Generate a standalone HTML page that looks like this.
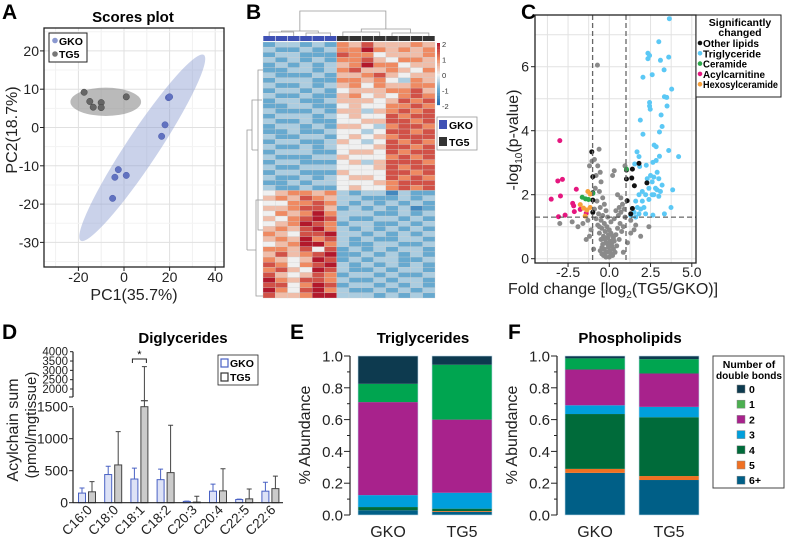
<!DOCTYPE html>
<html><head><meta charset="utf-8">
<style>
html,body{margin:0;padding:0;background:#fff;}
svg{display:block;font-family:"Liberation Sans",Arial,sans-serif;}
</style></head>
<body>
<svg id="fig" width="786" height="545" viewBox="0 0 786 545" xmlns="http://www.w3.org/2000/svg">
<g font-weight="bold" font-size="21">
<text x="2" y="19">A</text>
<text x="246" y="19">B</text>
<text x="521" y="19">C</text>
<text x="2" y="339">D</text>
<text x="290" y="339">E</text>
<text x="508" y="339">F</text>
</g>
<g id="pA"></g>
<g id="pB"></g>
<g id="pC"></g>
<g id="pD"></g>
<g id="pE"></g>
<g id="pF"></g>
</svg>
<script>
// ---------- Panel A data ----------
const gkoPC1 = [19.5, 20, 18, 16.5, -2.5, 1, -4, -5];
const gkoPC2 = [7.8, 8, 0.7, -2.3, -11, -12.5, -13, -18.5];
const tg5PC1 = [-17.5, -15, -13.5, -10, -10, 1];
const tg5PC2 = [9.2, 6.8, 5.3, 6.5, 5.2, 8];
const aXTicks = [-20, 0, 20, 40];
const aYTicks = [-30, -20, -10, 0, 10, 20];

// ---------- Panel B data (digit 0..8 => z -2..2) ----------
const heatRows = [
"23323265755565","32232366865656","23322276645556","32323266754665","23232356866455",
"22332367556546","32223255675455","23332266564365","32232356465566","23323245556675",
"32232256454676","23322355545767","22332245446676","32223255356767","23332345447677",
"32232244557767","23323255436776","22322344347767","32233245456777","23322354347676",
"32232344457767","23332245547677","32223354446767","23322245357776","32233344457677",
"23322254447767","32232345547676","22323344456777","32232245446767",
"45665632331322","56576533222323","44667632323232","55677523232312","46568633322323",
"54678732233232","45687623322323","56578632323232","65477833232323","56586732322332",
"45688632233223","66574723232332","57567822323232","65458723233223","76467832323232",
"67548732232332","75457623323223","86577632232332","77468723323232","86478632232323",
"75568833323232"];
const heatGroups = ["GKO","GKO","GKO","GKO","GKO","GKO","TG5","TG5","TG5","TG5","TG5","TG5","TG5","TG5"];
const scaleTicks = [2, 1, 0, -1, -2];

// ---------- Panel C data ----------
const tgFC = [3.64,3.0,2.34,2.44,2.34,3.1,3.6,3.32,2.6,2.04,3.78,3.34,3.48,2.44,2.44,2.48,3.5,3.14,1.88,3.2,3.04,2.04,2.72,2.84,3.6,1.68,1.8,3.04,4.2,2.64,2.84,2.24,1.54,1.84,3.84,3.74,3.34,2.64,
 2.3,2.5,2.7,2.9,2.6,3.0,3.2,2.4,2.8,2.0,2.2,2.6,3.0,2.9,1.8,1.6,2.0,2.4,1.7,1.9,2.1,1.5,1.8,1.3,1.6,2.2,2.7,3.1];
const tgP = [7.5,6.78,6.42,6.35,6.25,6.2,6.3,5.9,5.75,5.67,5.3,5.06,5.04,4.88,4.77,4.67,4.77,4.49,4.33,4.13,3.96,3.89,3.55,3.5,3.38,3.34,3.19,3.2,3.19,3.01,3.07,2.92,2.96,2.88,2.15,1.6,1.4,1.36,
 2.5,2.6,2.55,2.7,2.4,2.5,2.3,2.2,2.2,2.1,2.0,2.0,1.95,2.15,2.0,1.8,1.8,1.85,1.6,1.55,1.6,1.45,1.4,1.35,1.3,1.4,2.0,2.1];
const otherFC = [-1.06,-1.0,-1.0,-1.0,-1.0,1.04,1.4,1.04,1.36,1.52,1.8,2.28,1.08,1.4,1.3];
const otherP = [3.34,2.56,2.06,1.83,1.45,2.77,2.8,2.49,2.52,2.28,2.98,2.37,1.81,1.57,1.4];
const cerFC = [-1.64,-1.44,-1.26,-1.0,1.04];
const cerP = [1.92,1.87,1.85,2.04,2.8];
const acFC = [-3.0,-3.12,-2.84,-2.96,-3.52,-2.0,-2.22,-2.12,-1.76,-2.68,-3.08,-1.4,-2.16];
const acP = [3.69,2.43,2.48,1.96,1.86,2.17,1.73,1.47,1.54,1.36,1.31,1.42,1.65];
const hexFC = [-1.3,-1.16,-1.76,-1.56,-1.36,-1.16,-1.46];
const hexP = [2.1,2.02,1.69,1.58,1.52,1.6,1.33];
const nsFC = [-0.72,-0.62,-0.9,-0.7,-0.55,-0.8,-0.5,-0.85,-0.6,-0.4,-0.75,-0.3,-0.55,-0.9,-0.2,-0.65,-0.4,-0.8,-0.1,-0.5,-0.3,-0.7,-0.15,-0.45,0.0,-0.25,-0.6,0.1,-0.35,-0.1,0.2,-0.5,0.05,-0.2,0.3,-0.4,0.15,-0.05,-0.3,0.25,-0.15,0.1,-0.35,0.0,-0.2,0.2,-0.55,0.35,-0.45,0.45,
 0.6,0.4,0.7,0.55,0.8,0.9,0.3,0.65,0.5,0.75,0.4,0.85,0.6,0.95,0.3,0.2,0.5,0.7,
 -1.3,-1.6,-1.1,-1.9,-2.25,-3.0,-1.2,-1.4,1.3,1.6,1.5,1.9,1.1,2.4,1.3,-1.05,-1.2,-0.95,0.85,0.95,
 -0.25,-0.05,0.15,-0.45,0.05,-0.3,-0.1,0.25,-0.6,0.1];
const nsP = [6.05,3.42,3.1,2.9,2.7,2.6,2.4,2.2,2.1,1.9,1.8,1.7,1.6,1.55,1.5,1.4,1.35,1.25,1.3,1.2,1.1,1.05,1.0,0.95,0.9,0.85,0.8,0.8,0.7,0.65,0.7,0.6,0.55,0.5,0.55,0.45,0.4,0.35,0.3,0.3,0.2,0.15,0.1,0.05,0.05,0.1,0.25,0.2,0.15,0.4,
 1.6,1.5,1.45,1.35,1.7,1.55,1.25,1.1,0.95,0.85,0.75,1.0,0.6,1.3,2.75,2.6,2.0,1.9,
 1.2,1.1,0.9,1.0,1.15,1.1,0.7,0.6,1.2,1.05,0.9,0.7,0.5,1.0,0.8,3.05,2.9,0.3,0.2,2.9,
 0.6,0.75,0.5,0.35,0.25,0.15,0.45,0.65,1.0,1.15];
const cXTicks = [-2.5, 0, 2.5, 5];
const cYTicks = [0, 2, 4, 6];

// ---------- Panel D data ----------
const dgCats = ["C16:0","C18:0","C18:1","C18:2","C20:3","C20:4","C22:5","C22:6"];
const dgGKO = [150, 440, 370, 360, 20, 180, 50, 180];
const dgGKOerr = [230, 570, 540, 525, 25, 290, 55, 320];
const dgTG5 = [170, 590, 1700, 470, 10, 185, 60, 220];
const dgTG5err = [330, 1110, 3200, 1210, 100, 530, 215, 415];
const dLowTicks = [0, 500, 1000, 1500];
const dHighTicks = [2000, 2500, 3000, 3500, 4000];

// ---------- Panel E/F data (bottom to top: 6+,5,4,3,2,1,0) ----------
const bondLabels = ["6+","5","4","3","2","1","0"];
const tgGKO = [0.03, 0.0, 0.02, 0.075, 0.585, 0.115, 0.175];
const tgTG5 = [0.02, 0.005, 0.015, 0.1, 0.46, 0.345, 0.055];
const plGKO = [0.265, 0.025, 0.345, 0.055, 0.225, 0.07, 0.015];
const plTG5 = [0.22, 0.025, 0.37, 0.065, 0.21, 0.09, 0.02];
const stackTicks = [0, 0.2, 0.4, 0.6, 0.8, 1.0];

const NS = "http://www.w3.org/2000/svg";
function mk(parent, tag, attrs, text) {
  const e = document.createElementNS(NS, tag);
  for (const k in attrs) e.setAttribute(k, attrs[k]);
  if (text !== undefined) e.textContent = text;
  parent.appendChild(e);
  return e;
}

// ================= Panel A =================
(function(){
  const g = document.getElementById('pA');
  const L=44,R=224,T=28,B=267;
  const sx = v => 124 + v*2.28;
  const sy = v => 127.5 - v*3.83;
  let t = mk(g,'text',{x:133,y:22,'text-anchor':'middle','font-weight':'bold','font-size':15},'Scores plot');
   
  for (let v=-30; v<=40; v+=10){ const l=mk(g,'line',{x1:sx(v),x2:sx(v),y1:T,y2:B,stroke:v%20===0?'#e0e0e0':'#f0f0f0','stroke-width':1});
      }
  for (let v=-35; v<=25; v+=5){ const yy=sy(v); if(yy<T||yy>B) continue; const l=mk(g,'line',{x1:L,x2:R,y1:yy,y2:yy,stroke:v%10===0?'#e0e0e0':'#f3f3f3','stroke-width':1});
      }
  const cx1=sx(8), cy1=sy(-5.3), dx=sx(35)-sx(-19), dy=sy(19)-sy(-29.5);
  const len=Math.sqrt(dx*dx+dy*dy)/2, ang=Math.atan2(dy,dx)*180/Math.PI;
  let e=mk(g,'ellipse',{cx:cx1,cy:cy1,rx:len,ry:16,fill:'#8a9bd0','fill-opacity':0.45,transform:`rotate(${ang} ${cx1} ${cy1})`});
   
  e=mk(g,'ellipse',{cx:sx(-8),cy:sy(6.7),rx:15.5*2.28,ry:3.7*3.83,fill:'#8c8c8c','fill-opacity':0.6});
   
  gkoPC1.forEach((v,i)=>{ const c=mk(g,'circle',{cx:sx(v),cy:sy(gkoPC2[i]),r:3.2,fill:'#6172c0',stroke:'#4e5eae','stroke-width':0.5});
      });
  tg5PC1.forEach((v,i)=>{ const c=mk(g,'circle',{cx:sx(v),cy:sy(tg5PC2[i]),r:3.2,fill:'#666',stroke:'#444','stroke-width':0.5});
      });
  let r=mk(g,'rect',{x:L,y:T,width:R-L,height:B-T,fill:'none',stroke:'#222','stroke-width':1.3});
   
  aXTicks.forEach(v=>{ mk(g,'line',{x1:sx(v),x2:sx(v),y1:B,y2:B+4,stroke:'#222'});
    const tt=mk(g,'text',{x:sx(v),y:282,'text-anchor':'middle','font-size':14,fill:'#222'},String(v));
      });
  aYTicks.forEach(v=>{ mk(g,'line',{x1:L-4,x2:L,y1:sy(v),y2:sy(v),stroke:'#222'});
    const tt=mk(g,'text',{x:L-5,y:sy(v)+5,'text-anchor':'end','font-size':14,fill:'#222'},String(v));
      });
  t=mk(g,'text',{x:134,y:300,'text-anchor':'middle','font-size':16,fill:'#222'},'PC1(35.7%)');
   
  t=mk(g,'text',{x:0,y:0,'text-anchor':'middle','font-size':16,fill:'#222',transform:'translate(17 130) rotate(-90)'},'PC2(18.7%)');
   
  const lg=mk(g,'g',{});  
  mk(lg,'rect',{x:49,y:33,width:38,height:29,fill:'#fff',stroke:'#222','stroke-width':1});
  mk(lg,'circle',{cx:55,cy:40.5,r:2.8,fill:'#8a98d0'});
  mk(lg,'text',{x:59,y:45,'font-size':10.5,'font-weight':'bold'},'GKO');
  mk(lg,'circle',{cx:55,cy:54,r:2.8,fill:'#777'});
  mk(lg,'text',{x:59,y:58,'font-size':10.5,'font-weight':'bold'},'TG5');
})();

// ================= Panel B =================
(function(){
  const g = document.getElementById('pB');
  const L=263,R=435,T=42,B=298;
  const nc=heatGroups.length, nr=heatRows.length;
  const cw=(R-L)/nc, rh=(B-T)/nr;
  function col(z){
    const stops=[[-2,[33,102,172]],[-1,[103,169,207]],[0,[240,240,240]],[1,[239,138,98]],[2,[178,24,43]]];
    z=Math.max(-2,Math.min(2,z));
    for(let i=0;i<stops.length-1;i++){ const a=stops[i],b=stops[i+1];
      if(z<=b[0]){ const t=(z-a[0])/(b[0]-a[0]); return 'rgb('+a[1].map((c,k)=>Math.round(c+(b[1][k]-c)*t)).join(',')+')'; } }
    return 'rgb(178,24,43)';
  }
  heatRows.forEach((row,ri)=>{
    for(let ci=0;ci<nc;ci++){ const z=(parseInt(row[ci])-4)/2;
      const c=mk(g,'rect',{x:L+ci*cw,y:T+ri*rh,width:cw,height:rh,fill:col(z),stroke:'#cfcfcf','stroke-width':0.3});
        }
  });
  heatGroups.forEach((gr,ci)=>{ const c=mk(g,'rect',{x:L+ci*cw+0.3,y:36,width:cw-0.6,height:5,fill:gr==='GKO'?'#3f51b5':'#333'});
      });
  const dg=mk(g,'g',{stroke:'#999','stroke-width':0.8,fill:'none'});  
  const cxs=i=>L+(i+0.5)*cw;
  mk(dg,'path',{d:`M${cxs(0)} 36V32H${cxs(2)}V36 M${cxs(3)} 36V33H${cxs(5)}V36 M${(cxs(0)+cxs(2))/2} 32V31H${(cxs(3)+cxs(5))/2}V33 M${cxs(6)} 36V32H${cxs(9)}V36 M${cxs(10)} 36V33H${cxs(13)}V36 M${(cxs(6)+cxs(9))/2} 32V29H${(cxs(10)+cxs(13))/2}V33 M${(cxs(1)+cxs(4))/2} 31V11H${(cxs(8)+cxs(11))/2}V29`});
  const rd=mk(g,'g',{stroke:'#999','stroke-width':0.8,fill:'none'});  
  mk(rd,'path',{d:`M263 70H258V230H263 M258 150H252 M263 200H256V296H263 M256 250H247 M252 140V100H262 M252 150V128 M247 250V130H252`});
  const cs=mk(g,'g',{});  
  for(let i=0;i<40;i++){ const z=2-i*0.1; mk(cs,'rect',{x:437,y:43+i*1.55,width:3,height:1.7,fill:col(z)}); }
  scaleTicks.forEach(v=>{ mk(cs,'text',{x:442,y:43+(2-v)*15.5+4,'font-size':7.5,fill:'#333'},String(v)); });
  const lg=mk(g,'g',{});  
  mk(lg,'rect',{x:437,y:117,width:40,height:33,fill:'#fff',stroke:'#999','stroke-width':0.8});
  mk(lg,'rect',{x:439,y:120,width:8,height:9,fill:'#3f51b5'});
  mk(lg,'text',{x:449,y:129,'font-size':10.5,'font-weight':'bold'},'GKO');
  mk(lg,'rect',{x:439,y:137,width:8,height:9,fill:'#333'});
  mk(lg,'text',{x:449,y:146,'font-size':10.5,'font-weight':'bold'},'TG5');
})();

// ================= Panel C =================
(function(){
  const g = document.getElementById('pC');
  const L=535,R=696,T=15,B=263;
  const sx=v=>609.3+v*16.5, sy=v=>258.7-v*32;
  for(let v=-3.75; v<=5; v+=1.25){ const x=sx(v); if(x<L||x>R) continue;
    const l=mk(g,'line',{x1:x,x2:x,y1:T,y2:B,stroke:'#e2e2e2','stroke-width':1});
      }
  for(let v=0; v<=7; v++){ const l=mk(g,'line',{x1:L,x2:R,y1:sy(v),y2:sy(v),stroke:'#e2e2e2','stroke-width':1});
      }
  function pts(fc,p,color,name){ fc.forEach((v,i)=>{ const c=mk(g,'circle',{cx:sx(v),cy:sy(p[i]),r:2.5,fill:color});
      }); }
  pts(nsFC,nsP,'#8a8a8a','nonsignificant-point');
  pts(tgFC,tgP,'#5bc8f5','triglyceride-point');
  pts(otherFC,otherP,'#111','other-lipid-point');
  pts(cerFC,cerP,'#2aa84a','ceramide-point');
  pts(acFC,acP,'#e5177f','acylcarnitine-point');
  pts(hexFC,hexP,'#f7a03a','hexosylceramide-point');
  [-1,1].forEach(v=>{ const l=mk(g,'line',{x1:609.3+v*16.7,x2:609.3+v*16.7,y1:T,y2:B,stroke:'#666','stroke-width':1.3,'stroke-dasharray':'5,3'});
      });
  let l=mk(g,'line',{x1:L,x2:R,y1:sy(1.3),y2:sy(1.3),stroke:'#444','stroke-width':1,'stroke-dasharray':'5,3'});
   
  let r=mk(g,'rect',{x:L,y:T,width:R-L,height:B-T,fill:'none',stroke:'#222','stroke-width':1.3});
   
  cXTicks.forEach(v=>{ mk(g,'line',{x1:sx(v),x2:sx(v),y1:B,y2:B+4,stroke:'#222'});
    const t=mk(g,'text',{x:sx(v),y:277,'text-anchor':'middle','font-size':14,fill:'#222'},v.toFixed(1));
      });
  cYTicks.forEach(v=>{ mk(g,'line',{x1:L-4,x2:L,y1:sy(v),y2:sy(v),stroke:'#222'});
    const t=mk(g,'text',{x:L-6,y:sy(v)+5,'text-anchor':'end','font-size':14,fill:'#222'},String(v));
      });
  let t=mk(g,'text',{x:613,y:294,'text-anchor':'middle','font-size':16,fill:'#222'});
   
  mk(t,'tspan',{},'Fold change [log');
  mk(t,'tspan',{'font-size':10,dy:4},'2');
  mk(t,'tspan',{dy:-4},'(TG5/GKO)]');
  t=mk(g,'text',{x:0,y:0,'text-anchor':'middle','font-size':16,fill:'#222',transform:'translate(518 140) rotate(-90)'});
   
  mk(t,'tspan',{},'-log');
  mk(t,'tspan',{'font-size':10,dy:4},'10');
  mk(t,'tspan',{dy:-4},'(p-value)');
  const lg=mk(g,'g',{'font-size':10.5,'font-weight':'bold'});  
  mk(lg,'rect',{x:696,y:15,width:85,height:82,fill:'#fff',stroke:'#222','stroke-width':1});
  mk(lg,'text',{x:740,y:26,'text-anchor':'middle'},'Significantly');
  mk(lg,'text',{x:740,y:36,'text-anchor':'middle'},'changed');
  const items=[['Other lipids','#111',56],['Triglyceride','#5bc8f5',58],['Ceramide','#2aa84a',44],['Acylcarnitine','#e5177f',62],['Hexosylceramide','#f7a03a',75]];
  items.forEach((it,i)=>{ mk(lg,'circle',{cx:700,cy:43+i*10.3,r:2.3,fill:it[1]});
    mk(lg,'text',{x:703,y:47+i*10.3,textLength:it[2],lengthAdjust:'spacingAndGlyphs'},it[0]); });
})();

// ================= Panel D =================
(function(){
  const g=document.getElementById('pD');
  const L=73, R=283, Y0=502.7;
  const syLow=v=>Y0-v*0.064;
  const syHigh=v=>389-(v-2000)*0.01865;
  const sy=v=> v<=1500? syLow(v) : (v<1800? 407.7-(v-1500)*0.035 : syHigh(Math.max(v,2000)));
  const step=26.2, c0=87;
  let t=mk(g,'text',{x:183,y:343,'text-anchor':'middle','font-weight':'bold','font-size':15},'Diglycerides');
   
  dgCats.forEach((c,i)=>{
    const cx=c0+i*step;
    [[dgGKO,dgGKOerr,-5,'#4a62c4','#c6cff0','gko-bar'],[dgTG5,dgTG5err,5,'#444','#a8a8a8','tg5-bar']].forEach(s=>{
      const v=s[0][i], e=s[1][i], x=cx+s[2];
      const top=sy(Math.min(v,1500));
      const b=mk(g,'rect',{x:x-3.5,y:top,width:7,height:Y0-top,fill:s[4],'fill-opacity':0.6,stroke:s[3],'stroke-width':1});
       
      if(v>1500){ mk(g,'line',{x1:x-3.5,x2:x+3.5,y1:sy(v),y2:sy(v),stroke:s[3],'stroke-width':1.2}); }
      const el=mk(g,'path',{d:`M${x} ${top}V${sy(e)}M${x-2.5} ${sy(e)}H${x+2.5}`,stroke:s[3],'stroke-width':1,fill:'none'});
       
    });
    const tl=mk(g,'text',{x:0,y:0,'text-anchor':'end','font-size':13.5,fill:'#222',transform:`translate(${cx+6} ${Y0+8}) rotate(-45)`},c);
     
  });
  mk(g,'line',{x1:L,x2:R,y1:Y0,y2:Y0,stroke:'#222','stroke-width':1.2});
  mk(g,'line',{x1:L,x2:L,y1:Y0,y2:407.7,stroke:'#222','stroke-width':1.2});
  mk(g,'line',{x1:L,x2:L,y1:397,y2:351.7,stroke:'#222','stroke-width':1.2});
  dLowTicks.forEach(v=>{ mk(g,'line',{x1:L-4,x2:L,y1:syLow(v),y2:syLow(v),stroke:'#222'});
    const tt=mk(g,'text',{x:L-5,y:syLow(v)+5,'text-anchor':'end','font-size':14,fill:'#222'},String(v));
      });
  mk(g,'line',{x1:L-4,x2:L,y1:397,y2:397,stroke:'#222'});
  dHighTicks.forEach(v=>{ mk(g,'line',{x1:L-3,x2:L,y1:syHigh(v),y2:syHigh(v),stroke:'#222'});
    const tt=mk(g,'text',{x:L-5,y:syHigh(v)+4,'text-anchor':'end','font-size':11.5,fill:'#222'},String(v));
      });
  const sb=mk(g,'path',{d:`M${c0+2*step-7} 363V359H${c0+2*step+7}V363`,stroke:'#222',fill:'none','stroke-width':1});
   
  mk(g,'text',{x:c0+2*step,y:358,'text-anchor':'middle','font-size':11},'*');
  t=mk(g,'text',{x:0,y:0,'text-anchor':'middle','font-size':16,fill:'#222',transform:'translate(18 430) rotate(-90)'},'Acylchain sum');
   
  t=mk(g,'text',{x:0,y:0,'text-anchor':'middle','font-size':15,fill:'#222',transform:'translate(36 425) rotate(-90)'},'(pmol/mgtissue)');
   
  const lg=mk(g,'g',{'font-size':10.5,'font-weight':'bold'});  
  mk(lg,'rect',{x:218,y:355,width:40,height:30,fill:'#fff',stroke:'#222','stroke-width':0.8});
  mk(lg,'rect',{x:221,y:359,width:7,height:8,fill:'none',stroke:'#4a62c4','stroke-width':1.2});
  mk(lg,'text',{x:230,y:367},'GKO');
  mk(lg,'rect',{x:221,y:373,width:7,height:8,fill:'none',stroke:'#333','stroke-width':1.2});
  mk(lg,'text',{x:230,y:381},'TG5');
})();

// ================= Panels E & F =================
const bondColors = ["#005f87","#f07022","#006b3a","#009fdc","#a8228c","#00a550","#0d3a4f"];
function stacked(id, axisX, bars, title, titleX){
  const g=document.getElementById(id);
  const Y1=356, Y0=515, sy=v=>Y0-v*(Y0-Y1);
  let t=mk(g,'text',{x:titleX,y:343,'text-anchor':'middle','font-weight':'bold','font-size':15},title);
   
  bars.forEach(b=>{
    let acc=0;
    b.vals.forEach((v,i)=>{ const y2=sy(acc), y1=sy(acc+v); acc+=v;
      const r=mk(g,'rect',{x:b.x,y:y1,width:60,height:Math.max(0,y2-y1),fill:bondColors[i]});
        });
    mk(g,'rect',{x:b.x,y:Y1,width:60,height:Y0-Y1,fill:'none',stroke:'#bcd7ea','stroke-width':0.6});
    const tl=mk(g,'text',{x:b.x+30,y:537,'text-anchor':'middle','font-size':16,fill:'#222'},b.label);
     
  });
  mk(g,'line',{x1:axisX,x2:axisX,y1:Y1,y2:Y0,stroke:'#222','stroke-width':1.2});
  for(let v=0; v<=1.0001; v+=0.1){ const isMaj=Math.round(v*10)%2===0;
    mk(g,'line',{x1:axisX-(isMaj?6:3),x2:axisX,y1:sy(v),y2:sy(v),stroke:'#222'}); }
  stackTicks.forEach(v=>{ const tt=mk(g,'text',{x:axisX-7,y:sy(v)+5.5,'text-anchor':'end','font-size':15,fill:'#222'},v.toFixed(1));
      });
  t=mk(g,'text',{x:0,y:0,'text-anchor':'middle','font-size':16,fill:'#222',transform:`translate(${axisX-40} 435) rotate(-90)`},'% Abundance');
   
}
stacked('pE',350,[{x:358,vals:tgGKO,label:'GKO'},{x:432,vals:tgTG5,label:'TG5'}],'Triglycerides',423);
stacked('pF',557,[{x:565,vals:plGKO,label:'GKO'},{x:639,vals:plTG5,label:'TG5'}],'Phospholipids',630);
(function(){
  const g=document.getElementById('pF');
  const lg=mk(g,'g',{'font-size':10.5,'font-weight':'bold'});  
  mk(lg,'rect',{x:713,y:356,width:71,height:132,fill:'#fff',stroke:'#444','stroke-width':1});
  mk(lg,'text',{x:749,y:368,'text-anchor':'middle'},'Number of');
  mk(lg,'text',{x:749,y:379,'text-anchor':'middle',textLength:66,lengthAdjust:'spacingAndGlyphs'},'double bonds');
  const legColors=["#0d3a4f","#4caf50","#a8228c","#009fdc","#006b3a","#f07022","#005f87"];
  const legLabels=["0","1","2","3","4","5","6+"];
  legLabels.forEach((l,i)=>{ mk(lg,'rect',{x:737,y:385+i*15.2,width:8,height:8,fill:legColors[i],stroke:'#888','stroke-width':0.5});
    mk(lg,'text',{x:749,y:393+i*15.2},l); });
})();
</script>
</body></html>
